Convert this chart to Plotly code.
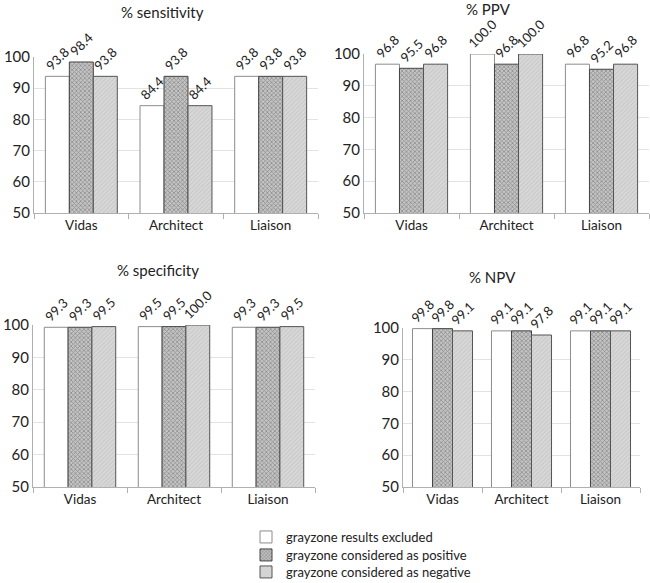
import plotly.graph_objects as go

categories = ["Vidas", "Architect", "Liaison"]
series_names = ["grayzone results excluded",
                "grayzone considered as positive",
                "grayzone considered as negative"]

sensitivity = [[93.8, 84.4, 93.8], [98.4, 93.8, 93.8], [93.8, 84.4, 93.8]]
ppv = [[96.8, 100.0, 96.8], [95.5, 96.8, 95.2], [96.8, 100.0, 96.8]]
specificity = [[99.3, 99.5, 99.3], [99.3, 99.5, 99.3], [99.5, 100.0, 99.5]]
npv = [[99.8, 99.1, 99.1], [99.8, 99.1, 99.1], [99.1, 97.8, 99.1]]

panel_titles = ["% sensitivity", "% PPV", "% specificity", "% NPV"]
panels = [sensitivity, ppv, specificity, npv]
y_ticks = [50, 60, 70, 80, 90, 100]

W, H = 650, 583
FONT = "Lato"

def px_x(a, b):
    return [a / W, b / W]

def px_y(top, bottom):
    return [1 - bottom / H, 1 - top / H]

# pixel geometry: left, right, top(100), bottom(50)
geoms = [
    (34, 318, 57, 213),
    (364, 649, 54, 213),
    (33, 315, 325, 487),
    (403, 640, 328, 487),
]
title_pos = [(162, 12), (488, 9), (158, 270), (492, 277)]
legend_rows = [537, 555, 572]
legend_names = ["legend", "legend2", "legend3"]

styles = [
    dict(color="white", line=dict(color="#8c8c8c", width=1)),
    dict(color="#9a9a9a", line=dict(color="#444444", width=1),
         pattern=dict(shape="x", size=3, solidity=0.45, fgcolor="#555555", bgcolor="#c4c4c4")),
    dict(color="#cfcfcf", line=dict(color="#555555", width=1),
         pattern=dict(shape="/", size=3, solidity=0.3, fgcolor="#b0b0b0", bgcolor="#d8d8d8")),
]

fig = go.Figure()
layout = dict(
    width=W, height=H,
    margin=dict(l=0, r=0, t=0, b=0, autoexpand=False),
    paper_bgcolor="white", plot_bgcolor="white",
    barmode="group", bargap=0.24, bargroupgap=0,
    font=dict(family=FONT, size=13, color="#222222"),
    showlegend=True,
    annotations=[],
)
for k, ln in enumerate(legend_names):
    layout[ln] = dict(x=246 / W, y=1 - legend_rows[k] / H, xanchor="left", yanchor="middle",
                      font=dict(family=FONT, size=13, color="#222222"),
                      itemwidth=30, bgcolor="rgba(0,0,0,0)")

for i, (data, (l, r, t, b)) in enumerate(zip(panels, geoms)):
    n = "" if i == 0 else str(i + 1)
    for s in range(3):
        fig.add_trace(go.Bar(
            x=categories, y=data[s], name=series_names[s],
            xaxis="x" + n, yaxis="y" + n,
            marker=styles[s],
            text=[f"{v:.1f}" for v in data[s]],
            textposition="outside", textangle=-45,
            constraintext="none",
            textfont=dict(family=FONT, size=13, color="#222222"),
            cliponaxis=False,
            showlegend=(i == 0),
            legend=legend_names[s],
        ))
    layout["xaxis" + n] = dict(
        domain=px_x(l, r), anchor="y" + n, automargin=False,
        showline=True, linecolor="#b0b0b0", linewidth=1,
        ticks="outside", tickson="boundaries", ticklen=5, tickcolor="#b0b0b0",
        showgrid=False, tickfont=dict(size=13.5), fixedrange=True,
    )
    layout["yaxis" + n] = dict(
        domain=px_y(t, b), anchor="x" + n, automargin=False,
        range=[50, 100], tickvals=y_ticks,
        showline=True, linecolor="#b0b0b0", linewidth=1,
        showgrid=True, gridcolor="#e3e3e3", gridwidth=1,
        zeroline=False, ticks="", tickfont=dict(size=15), fixedrange=True,
    )
    tx, ty = title_pos[i]
    layout["annotations"].append(dict(
        text=panel_titles[i], x=tx / W, y=1 - ty / H, xref="paper", yref="paper",
        xanchor="center", yanchor="middle", showarrow=False,
        font=dict(family=FONT, size=15, color="#222222"),
    ))

fig.update_layout(**layout)
fig.write_html("out.html",
               config={"displayModeBar": False},
               post_script="document.body.style.margin='0';document.body.style.overflow='hidden';")
